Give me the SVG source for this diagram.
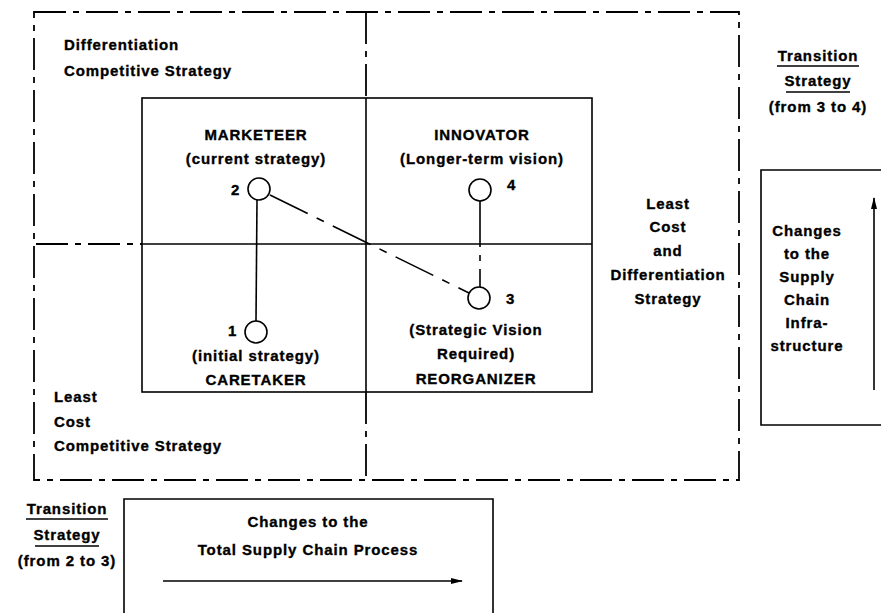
<svg xmlns="http://www.w3.org/2000/svg" width="881" height="613" viewBox="0 0 881 613">
<defs>
<style>
text{font-family:"Liberation Sans",Arial,sans-serif;font-weight:bold;font-size:15px;letter-spacing:0.9px;fill:#000;stroke:#000;stroke-width:0.35}
.c{text-anchor:middle}
.dd{fill:none;stroke:#000;stroke-width:1.8;stroke-dasharray:32 7 6 7}
.s{fill:none;stroke:#000;stroke-width:1.6}
.node{fill:#fff;stroke:#000;stroke-width:1.6}
.u{stroke:#000;stroke-width:1.4}
</style>
<marker id="ah" viewBox="0 0 12 8" refX="11" refY="4" markerWidth="12" markerHeight="8" markerUnits="userSpaceOnUse" orient="auto">
<path d="M0,1 L12,4 L0,7 z" fill="#000"/>
</marker>
</defs>
<rect width="881" height="613" fill="#fff"/>

<g id="frame">
<rect class="dd" x="34" y="12" width="705" height="468"/>
<line class="dd" x1="366" y1="12" x2="366" y2="98"/>
<line class="dd" x1="366" y1="392" x2="366" y2="480"/>
<line class="dd" x1="36" y1="244" x2="142" y2="244"/>
<rect class="s" x="142" y="98" width="450" height="294"/>
<line class="s" x1="366" y1="98" x2="366" y2="392"/>
<line class="s" x1="142" y1="244" x2="592" y2="244"/>
</g>

<g id="quadrant-labels">
<text x="64" y="50">Differentiation</text>
<text x="64" y="76">Competitive Strategy</text>
<text x="54" y="402">Least</text>
<text x="54" y="427">Cost</text>
<text x="54" y="451">Competitive Strategy</text>
<g class="c">
<text x="668" y="209">Least</text>
<text x="668" y="232">Cost</text>
<text x="668" y="256">and</text>
<text x="668" y="280">Differentiation</text>
<text x="668" y="304">Strategy</text>
</g>
</g>

<g id="connectors">
<line class="s" x1="257" y1="200" x2="256" y2="321"/>
<line class="s" x1="270" y1="195" x2="469" y2="293" stroke-dasharray="42 10 8 10"/>
<line class="s" x1="480" y1="201" x2="480" y2="287" stroke-dasharray="46 8 6 8"/>
</g>

<g id="marketeer">
<text class="c" x="256" y="140">MARKETEER</text>
<text class="c" x="256" y="164">(current strategy)</text>
<circle class="node" cx="259" cy="189" r="11"/>
<text x="231" y="195">2</text>
</g>

<g id="innovator">
<text class="c" x="482" y="140">INNOVATOR</text>
<text class="c" x="482" y="164">(Longer-term vision)</text>
<circle class="node" cx="480" cy="190" r="11"/>
<text x="507" y="190">4</text>
</g>

<g id="caretaker">
<circle class="node" cx="256" cy="332" r="11"/>
<text x="228" y="336">1</text>
<text class="c" x="256" y="361">(initial strategy)</text>
<text class="c" x="256" y="385">CARETAKER</text>
</g>

<g id="reorganizer">
<circle class="node" cx="479" cy="298" r="11"/>
<text x="506" y="304">3</text>
<text class="c" x="476" y="335">(Strategic Vision</text>
<text class="c" x="476" y="359">Required)</text>
<text class="c" x="476" y="384">REORGANIZER</text>
</g>

<g id="transition-3-4">
<text class="c" x="818" y="61">Transition</text>
<line class="u" x1="777" y1="66" x2="859" y2="66"/>
<text class="c" x="818" y="86">Strategy</text>
<line class="u" x1="786" y1="92" x2="850" y2="92"/>
<text class="c" x="818" y="112">(from 3 to 4)</text>
</g>

<g id="infrastructure-box">
<path class="s" d="M881,170 L761,170 L761,425 L881,425"/>
<g class="c">
<text x="807" y="236">Changes</text>
<text x="807" y="259">to the</text>
<text x="807" y="282">Supply</text>
<text x="807" y="305">Chain</text>
<text x="807" y="328">Infra-</text>
<text x="807" y="351">structure</text>
</g>
<line class="s" x1="874" y1="390" x2="874" y2="198" marker-end="url(#ah)"/>
</g>

<g id="transition-2-3">
<text class="c" x="67" y="514">Transition</text>
<line class="u" x1="26" y1="519" x2="108" y2="519"/>
<text class="c" x="67" y="540">Strategy</text>
<line class="u" x1="35" y1="546" x2="99" y2="546"/>
<text class="c" x="67" y="566">(from 2 to 3)</text>
</g>

<g id="process-box">
<path class="s" d="M124,613 L124,499 L493,499 L493,613"/>
<text class="c" x="308" y="527">Changes to the</text>
<text class="c" x="308" y="555">Total Supply Chain Process</text>
<line class="s" x1="163" y1="581" x2="462" y2="581" marker-end="url(#ah)"/>
</g>
</svg>
